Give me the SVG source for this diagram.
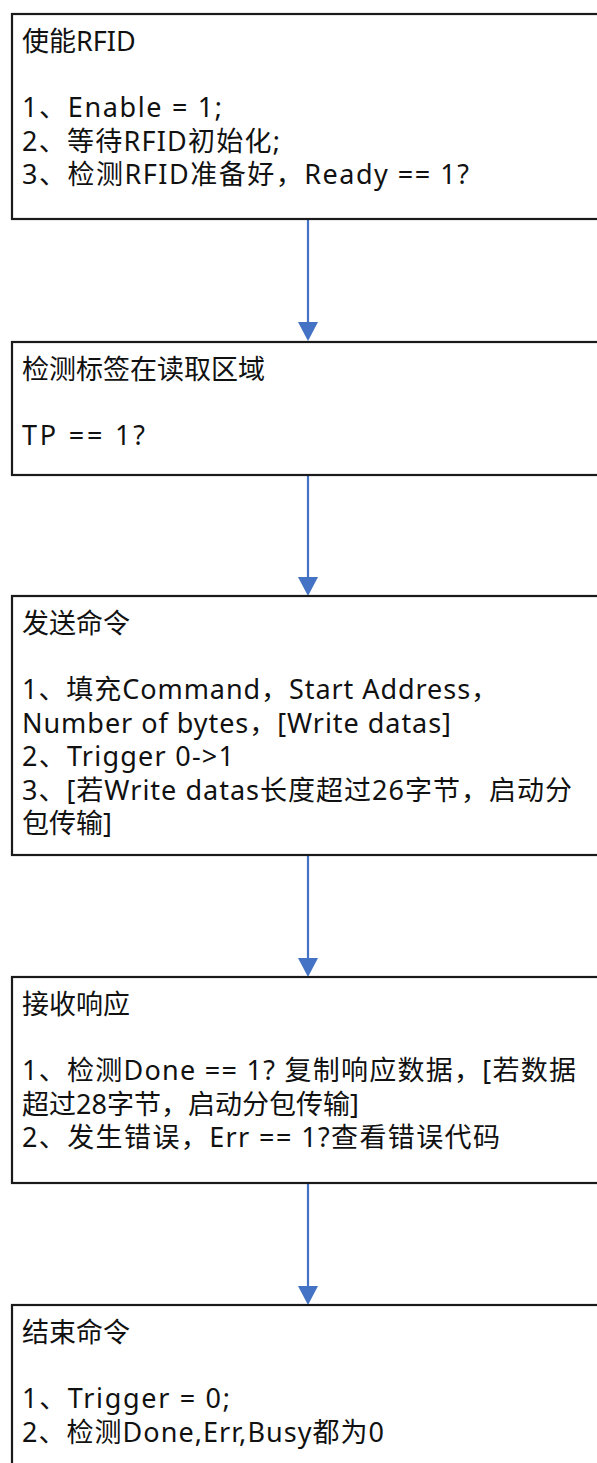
<svg xmlns="http://www.w3.org/2000/svg" width="597" height="1463" viewBox="0 0 597 1463">
<style>
.box{fill:#fff;stroke:#1a1a1a;stroke-width:2.2}
.t{font-family:"Noto Sans","Noto Sans CJK SC",sans-serif;font-size:27px;fill:#111}
.c{stroke:#4472C4;stroke-width:2.2;fill:none}
.h{fill:#4472C4}
</style>
<rect width="597" height="1463" fill="#fff"/>
<g id="connectors">
<line class="c" x1="308" y1="219" x2="308" y2="324"/>
<polygon class="h" points="298,322 318,322 308,341"/>
<line class="c" x1="308" y1="475" x2="308" y2="579"/>
<polygon class="h" points="298,577 318,577 308,596"/>
<line class="c" x1="308" y1="855" x2="308" y2="960"/>
<polygon class="h" points="298,958 318,958 308,977"/>
<line class="c" x1="308" y1="1183" x2="308" y2="1288"/>
<polygon class="h" points="298,1286 318,1286 308,1305"/>
</g>
<g id="node1">
<rect class="box" x="12" y="14" width="600" height="205"/>
<text class="t" x="22" y="51">使能RFID</text>
<text class="t" x="22" y="117" textLength="200" lengthAdjust="spacing">1、Enable = 1;</text>
<text class="t" x="22" y="150.5" textLength="258" lengthAdjust="spacing">2、等待RFID初始化;</text>
<text class="t" x="22" y="184" textLength="447" lengthAdjust="spacing">3、检测RFID准备好，Ready == 1?</text>
</g>
<g id="node2">
<rect class="box" x="12" y="342" width="600" height="133"/>
<text class="t" x="22" y="379">检测标签在读取区域</text>
<text class="t" x="22" y="445" textLength="123" lengthAdjust="spacing">TP == 1?</text>
</g>
<g id="node3">
<rect class="box" x="12" y="596" width="600" height="259"/>
<text class="t" x="22" y="633">发送命令</text>
<text class="t" x="22" y="699" textLength="476" lengthAdjust="spacing">1、填充Command，Start Address，</text>
<text class="t" x="22" y="732.5" textLength="429" lengthAdjust="spacing">Number of bytes，[Write datas]</text>
<text class="t" x="22" y="766" textLength="212" lengthAdjust="spacing">2、Trigger 0-&gt;1</text>
<text class="t" x="22" y="799.5" textLength="550" lengthAdjust="spacing">3、[若Write datas长度超过26字节，启动分</text>
<text class="t" x="22" y="833">包传输]</text>
</g>
<g id="node4">
<rect class="box" x="12" y="977" width="600" height="206"/>
<text class="t" x="22" y="1014">接收响应</text>
<text class="t" x="22" y="1080" textLength="554" lengthAdjust="spacing">1、检测Done == 1? 复制响应数据，[若数据</text>
<text class="t" x="22" y="1113.5">超过28字节，启动分包传输]</text>
<text class="t" x="22" y="1147" textLength="478" lengthAdjust="spacing">2、发生错误，Err == 1?查看错误代码</text>
</g>
<g id="node5">
<rect class="box" x="12" y="1305" width="600" height="200"/>
<text class="t" x="22" y="1342">结束命令</text>
<text class="t" x="22" y="1408" textLength="208" lengthAdjust="spacing">1、Trigger = 0;</text>
<text class="t" x="22" y="1441.5" textLength="362" lengthAdjust="spacing">2、检测Done,Err,Busy都为0</text>
</g>
</svg>
